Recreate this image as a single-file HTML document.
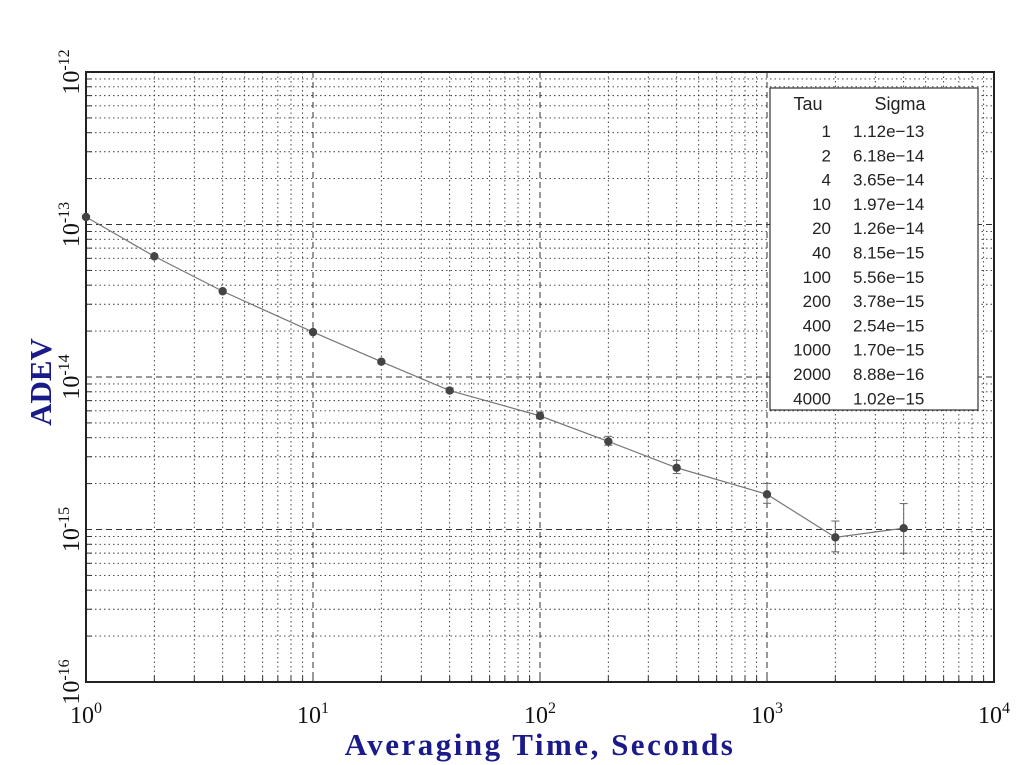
<!DOCTYPE html>
<html><head><meta charset="utf-8"><style>
body{margin:0;background:#fff}
svg{display:block}
</style></head><body>
<svg id="s" width="1024" height="765" xmlns="http://www.w3.org/2000/svg" font-family="Liberation Serif, serif"></svg>
<script>
const L=86,R=994,T=72,B=682;
const xp=t=>L+(Math.log10(t))*(R-L)/4;
const yp=v=>T+(-12-Math.log10(v))*(B-T)/4;
let h='';
for(let d=0;d<4;d++)for(let k=1;k<10;k++){const x=xp(k*Math.pow(10,d));if(k==1&&d==0)continue;
 h+=`<line x1="${x}" y1="${T}" x2="${x}" y2="${B}" stroke="#333" stroke-width="${k==1?1:0.9}" stroke-dasharray="${k==1?'6,4':'1.5,3'}"/>`;
 h+=`<line x1="${x}" y1="${B}" x2="${x}" y2="${B-6}" stroke="#333"/>`;}
for(let d=-16;d<-12;d++)for(let k=1;k<10;k++){const y=yp(k*Math.pow(10,d));if(k==1&&d==-16)continue;
 h+=`<line x1="${L}" y1="${y}" x2="${R}" y2="${y}" stroke="#333" stroke-width="0.9" stroke-dasharray="${k==1?'6,4':'1.5,3'}"/>`;
 h+=`<line x1="${L}" y1="${y}" x2="${L+6}" y2="${y}" stroke="#333"/>`;}
h+=`<rect x="${L}" y="${T}" width="${R-L}" height="${B-T}" fill="none" stroke="#222" stroke-width="2"/>`;
const data=[[1,1.12e-13],[2,6.18e-14],[4,3.65e-14],[10,1.97e-14],[20,1.26e-14],[40,8.15e-15],[100,5.56e-15],[200,3.78e-15],[400,2.54e-15],[1000,1.70e-15],[2000,8.88e-16],[4000,1.02e-15]];
const err=[0.01,0.01,0.02,0.02,0.03,0.04,0.06,0.08,0.12,0.18,0.28,0.45];
h+=`<polyline fill="none" stroke="#777" stroke-width="1.2" points="${data.map(d=>xp(d[0])+','+yp(d[1])).join(' ')}"/>`;
data.forEach((d,i)=>{const x=xp(d[0]),y=yp(d[1]);const e=err[i];
 if(e>0.03){const y1=yp(d[1]*(1+e)),y2=yp(d[1]*(1-e*0.7));
 h+=`<line x1="${x}" y1="${y1}" x2="${x}" y2="${y2}" stroke="#666"/><line x1="${x-4}" y1="${y1}" x2="${x+4}" y2="${y1}" stroke="#666"/><line x1="${x-4}" y1="${y2}" x2="${x+4}" y2="${y2}" stroke="#666"/>`;}
 h+=`<circle cx="${x}" cy="${y}" r="4.2" fill="#444"/>`;});
h+=`<rect x="770" y="88" width="208" height="322" fill="#fff" stroke="#333" stroke-width="1.2"/>`;
h+=`<text x="808" y="110" font-family="Liberation Sans,sans-serif" font-size="18" text-anchor="middle" fill="#222">Tau</text>`;
h+=`<text x="900" y="110" font-family="Liberation Sans,sans-serif" font-size="18" text-anchor="middle" fill="#222">Sigma</text>`;
const ss=['1.12e−13','6.18e−14','3.65e−14','1.97e−14','1.26e−14','8.15e−15','5.56e−15','3.78e−15','2.54e−15','1.70e−15','8.88e−16','1.02e−15'];
data.forEach((d,i)=>{const y=137+i*24.3;
 h+=`<text x="831" y="${y}" font-family="Liberation Sans,sans-serif" font-size="17" text-anchor="end" fill="#222">${d[0]}</text>`;
 h+=`<text x="853" y="${y}" font-family="Liberation Sans,sans-serif" font-size="17" fill="#222">${ss[i]}</text>`;});
for(let d=0;d<=4;d++){h+=`<text x="${xp(Math.pow(10,d))}" y="723" font-size="24" text-anchor="middle" fill="#111">10<tspan dy="-10" font-size="16">${d}</tspan></text>`;}
for(let d=-12;d>=-16;d--){const y=yp(Math.pow(10,d));h+=`<text transform="translate(79,${y}) rotate(-90)" font-size="24" text-anchor="middle" fill="#111">10<tspan dy="-10" font-size="16">${d}</tspan></text>`;}
h+=`<text x="540" y="755" font-size="31" font-weight="bold" text-anchor="middle" fill="#1a1a8a" letter-spacing="2.5">Averaging Time, Seconds</text>`;
h+=`<text transform="translate(51,382) rotate(-90)" font-size="31" font-weight="bold" text-anchor="middle" fill="#1a1a8a">ADEV</text>`;
document.getElementById('s').innerHTML=h;
</script>
</body></html>
